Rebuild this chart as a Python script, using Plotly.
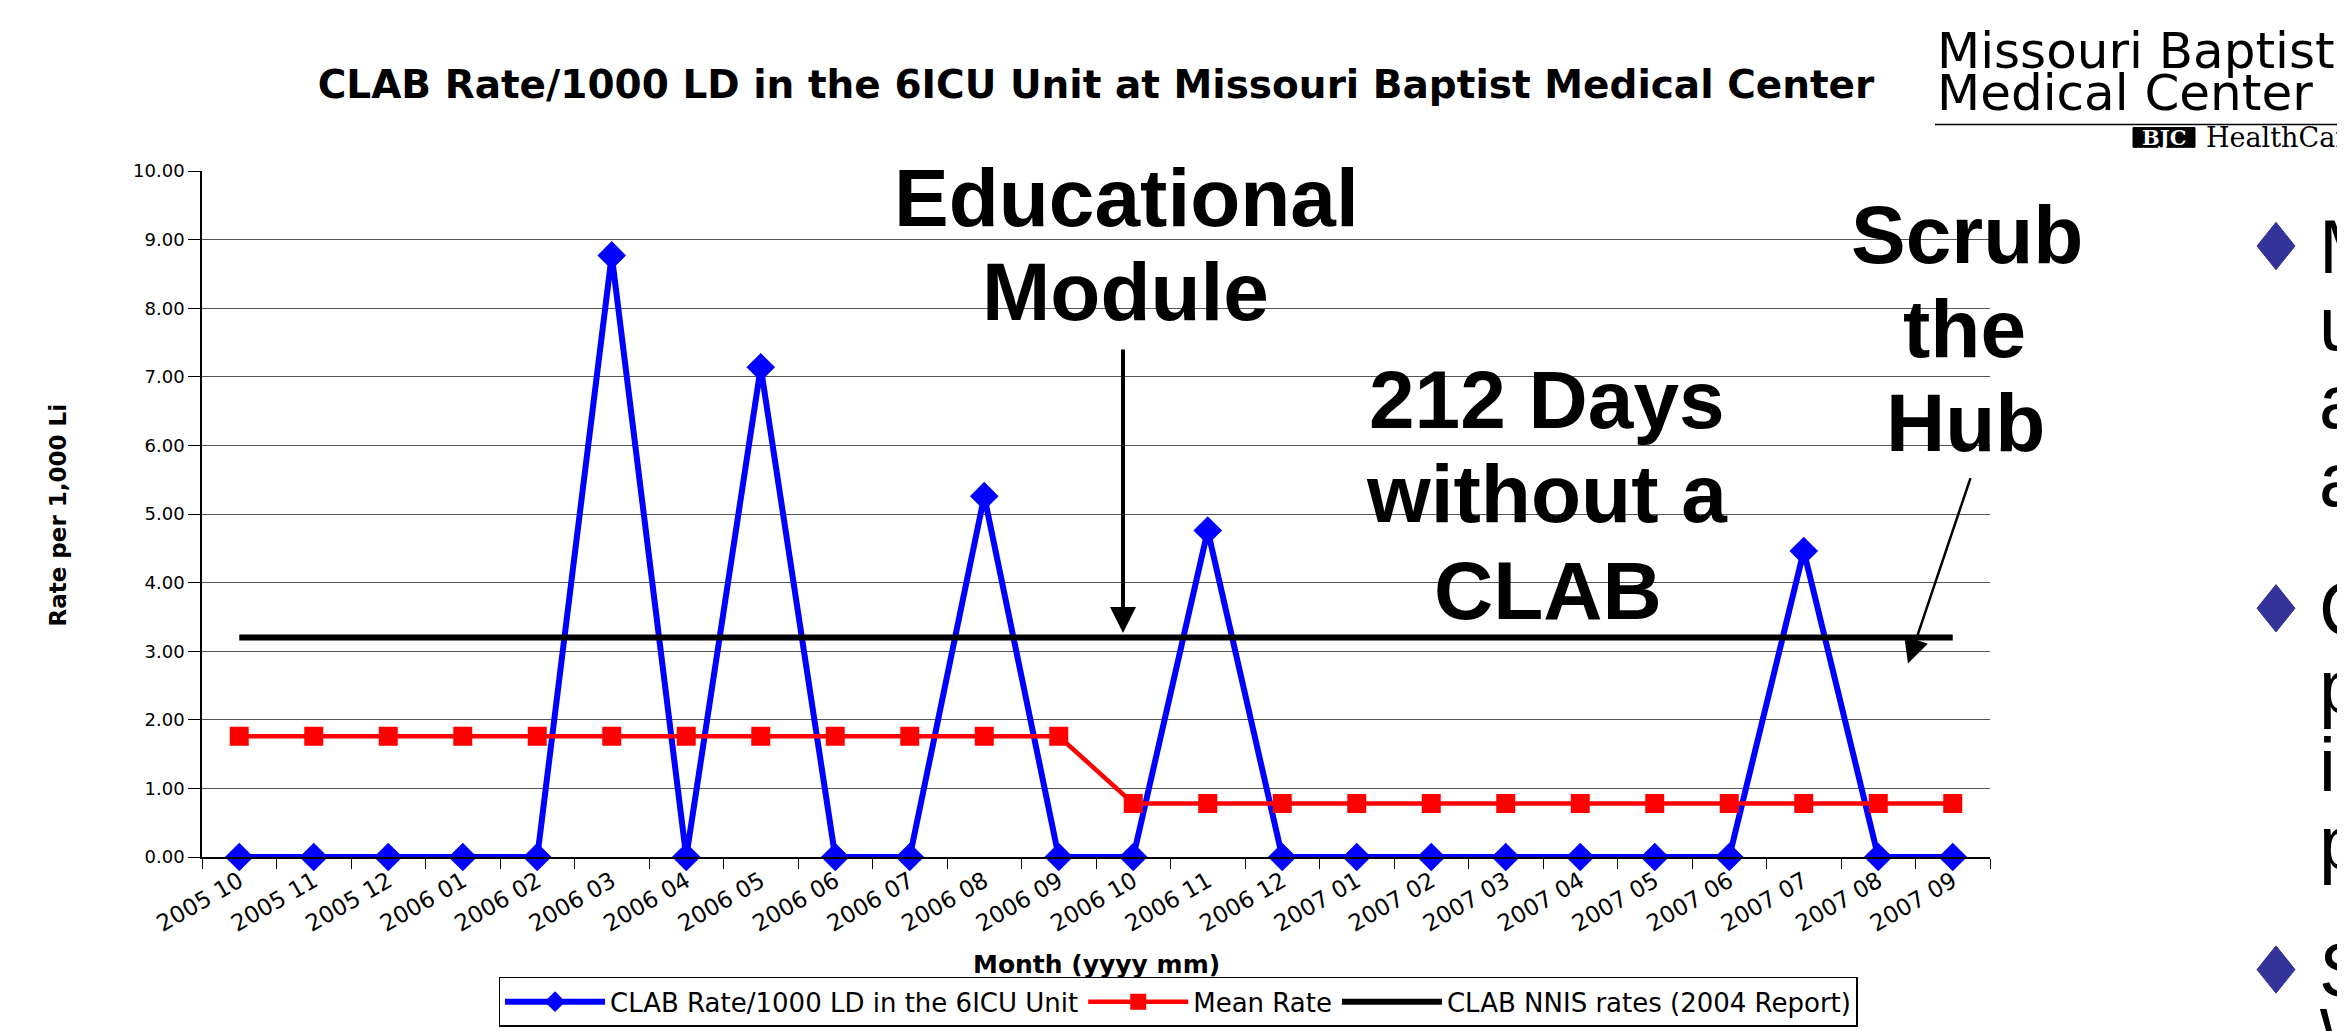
import plotly.graph_objects as go

# ---------------- data ----------------
months = ["2005 10", "2005 11", "2005 12",
          "2006 01", "2006 02", "2006 03", "2006 04", "2006 05", "2006 06",
          "2006 07", "2006 08", "2006 09", "2006 10", "2006 11", "2006 12",
          "2007 01", "2007 02", "2007 03", "2007 04", "2007 05", "2007 06",
          "2007 07", "2007 08", "2007 09"]
clab_rate = [0.00, 0.00, 0.00, 0.00, 0.00, 8.77, 0.00, 7.14, 0.00, 0.00, 5.26, 0.00,
             0.00, 4.76, 0.00, 0.00, 0.00, 0.00, 0.00, 0.00, 0.00, 4.46, 0.00, 0.00]
mean_rate = [1.76, 1.76, 1.76, 1.76, 1.76, 1.76, 1.76, 1.76, 1.76, 1.76, 1.76, 1.76,
             0.78, 0.78, 0.78, 0.78, 0.78, 0.78, 0.78, 0.78, 0.78, 0.78, 0.78, 0.78]
nnis_rate = [3.20, 3.20, 3.20, 3.20, 3.20, 3.20, 3.20, 3.20, 3.20, 3.20, 3.20, 3.20,
             3.20, 3.20, 3.20, 3.20, 3.20, 3.20, 3.20, 3.20, 3.20, 3.20, 3.20, 3.20]
series_names = ["CLAB Rate/1000 LD in the 6ICU Unit", "Mean Rate",
                "CLAB NNIS rates (2004 Report)"]
chart_title = "CLAB Rate/1000 LD in the 6ICU Unit at Missouri Baptist Medical Center"
x_title = "Month (yyyy mm)"
y_title = "Rate per 1,000 Li"

# ---------------- geometry helpers ----------------
W, H = 2345, 1031
L, R, T, B = 194, 1982, 163, 858


def px(x):
    return (x - L) / (R - L)


def py(y):
    return (B - y) / (B - T)


SANS = "DejaVu Sans, Verdana, sans-serif"
ARIAL = "Liberation Sans, Arial, sans-serif"
SERIF = "DejaVu Serif, Liberation Serif, serif"

fig = go.Figure()
fig.add_trace(go.Scatter(
    x=months, y=clab_rate, name=series_names[0], mode="lines+markers",
    line=dict(color="#0000FF", width=6),
    marker=dict(symbol="diamond", size=22, color="#0000FF"),
    cliponaxis=False))
fig.add_trace(go.Scatter(
    x=months, y=mean_rate, name=series_names[1], mode="lines+markers",
    line=dict(color="#FF0000", width=4.5),
    marker=dict(symbol="square", size=19, color="#FF0000"),
    cliponaxis=False))
fig.add_trace(go.Scatter(
    x=months, y=nnis_rate, name=series_names[2], mode="lines",
    line=dict(color="#000000", width=6),
    cliponaxis=False))

annotations = []


def txt(text, x, y, size, family=ARIAL, xanchor="center", color="black", angle=0):
    annotations.append(dict(
        text=text, x=px(x), y=py(y), xref="paper", yref="paper",
        xanchor=xanchor, yanchor="middle", showarrow=False,
        textangle=angle, font=dict(family=family, size=size, color=color)))


# axis titles
txt("<b>" + x_title + "</b>", 1088, 967, 25, SANS)
txt("<b>" + y_title + "</b>", 50, 512, 23, SANS, angle=-90)

# big callouts
txt("<b>Educational</b>", 1118, 190, 82)
txt("<b>Module</b>", 1117, 285, 82)
txt("<b>212 Days</b>", 1539, 394, 82)
txt("<b>without a</b>", 1539, 490, 82)
txt("<b>CLAB</b>", 1540, 588, 82)
txt("<b>Scrub</b>", 1959, 227, 82)
txt("<b>the</b>", 1956, 323, 82)
txt("<b>Hub</b>", 1957, 418, 82)

# arrows
annotations.append(dict(x=px(1115), y=py(631), xref="paper", yref="paper", text="",
                        showarrow=True, ax=0, ay=-285, arrowhead=2, arrowsize=1.3,
                        arrowwidth=4, arrowcolor="black", standoff=0))
annotations.append(dict(x=px(1900), y=py(662), xref="paper", yref="paper", text="",
                        showarrow=True, ax=63, ay=-187, arrowhead=2, arrowsize=2,
                        arrowwidth=2.5, arrowcolor="black", standoff=0))

# logo
txt("Missouri Baptist", 1927, 41, 50, SANS, xanchor="left")
txt("Medical Center", 1927, 84, 50, SANS, xanchor="left")
txt("HealthCare", 2196, 129, 27, SERIF, xanchor="left")
txt("<b>BJC</b>", 2156, 129, 21, SERIF, color="white")

# slide bullet text (cut off at the window edge)
bullet_letters = [("M", 239), ("u", 318), ("a", 397), ("a", 476),
                  ("C", 606), ("p", 685), ("i", 764), ("p", 843),
                  ("S", 972), ("w", 1026)]
for ch, yy in bullet_letters:
    txt(ch, 2309, yy, 76, ARIAL, xanchor="left")

shapes = []
# logo rule and BJC box
shapes.append(dict(type="line", xref="paper", yref="paper",
                   x0=px(1927), x1=px(2345), y0=py(116), y1=py(116),
                   line=dict(color="black", width=1.5)))
shapes.append(dict(type="rect", xref="paper", yref="paper",
                   x0=px(2125), x1=px(2187), y0=py(139), y1=py(119),
                   fillcolor="black", line=dict(color="black", width=1),
                   layer="below"))
# bullet diamonds
for cy in (239, 606, 972):
    cx, hw, hh = 2268, 19, 24
    path = (f"M {px(cx - hw)},{py(cy)} L {px(cx)},{py(cy - hh)} "
            f"L {px(cx + hw)},{py(cy)} L {px(cx)},{py(cy + hh)} Z")
    shapes.append(dict(type="path", xref="paper", yref="paper", path=path,
                       fillcolor="#333399", line=dict(color="#333399", width=1)))

fig.update_layout(
    width=W, height=H, autosize=False,
    margin=dict(l=L, r=W - R, t=T, b=H - B, pad=0),
    paper_bgcolor="white", plot_bgcolor="white",
    font=dict(family=SANS, color="black"),
    title=dict(text="<b>" + chart_title + "</b>", x=px(1088), xref="paper",
               xanchor="center", y=1 - 76 / H, yref="container", yanchor="middle",
               font=dict(family=SANS, size=39, color="black")),
    showlegend=True,
    legend=dict(orientation="h", x=px(1170), xanchor="center", y=py(1030),
                yanchor="bottom", bordercolor="black", borderwidth=1.5,
                bgcolor="white", font=dict(family=SANS, size=26, color="black"),
                itemwidth=100, traceorder="normal"),
    annotations=annotations,
    shapes=shapes,
)
fig.update_xaxes(type="category", range=[-0.5, 23.5], tickangle=-30,
                 tickfont=dict(family=SANS, size=23, color="black"),
                 ticks="outside", tickson="boundaries", ticklen=10,
                 tickcolor="black", showline=True, linecolor="black",
                 linewidth=1.5, showgrid=False, zeroline=False, automargin=False)
fig.update_yaxes(range=[0, 10], tick0=0, dtick=1, tickformat=".2f",
                 tickfont=dict(family=SANS, size=18, color="black"),
                 ticks="outside", ticklen=12, tickcolor="black",
                 showline=True, linecolor="black", linewidth=1.5,
                 showgrid=True, gridcolor="#555555", gridwidth=1.2,
                 zeroline=False, automargin=False)

fig.write_html("out.html")
